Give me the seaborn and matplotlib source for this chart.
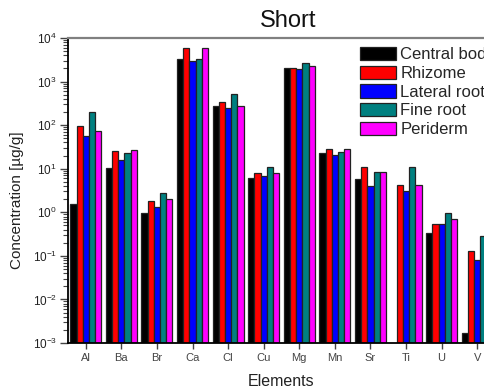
import numpy as np
import pandas as pd
import matplotlib
matplotlib.use("Agg")
import matplotlib.pyplot as plt
import seaborn as sns

elements = ["Al", "Ba", "Br", "Ca", "Cl", "Cu", "Mg", "Mn", "Sr", "Ti", "U", "V"]
parts = ["Central body", "Rhizome", "Lateral root", "Fine root", "Periderm"]
central_body = [1.55, 10.2, 0.94, 3230, 272, 6.1, 2030, 23, 5.8, np.nan, 0.34, 0.0017]
rhizome      = [95, 25, 1.8, 5900, 340, 7.9, 2100, 28, 11, 4.2, 0.55, 0.13]
lateral_root = [57, 15.8, 1.34, 2950, 250, 6.8, 1920, 20.5, 4.1, 3.1, 0.53, 0.08]
fine_root    = [200, 23, 2.7, 3250, 515, 10.9, 2680, 24, 8.5, 11, 0.96, 0.28]
periderm     = [73, 27, 2.0, 5750, 275, 7.9, 2290, 28, 8.3, 4.2, 0.69, 0.2]
colors = ["#000000", "#FF0000", "#0000FF", "#008080", "#FF00FF"]

series = [central_body, rhizome, lateral_root, fine_root, periderm]
rows = []
for p, vals in zip(parts, series):
    for e, v in zip(elements, vals):
        rows.append({"Element": e, "Part": p, "Value": v})
df = pd.DataFrame(rows)

sns.set_theme(style="white")
plt.rcParams["font.family"] = ["Liberation Sans", "DejaVu Sans"]
plt.rcParams["mathtext.fontset"] = "custom"
plt.rcParams["mathtext.rm"] = "Liberation Sans"

fig = plt.figure(figsize=(4.85, 3.88), dpi=100)
ax = fig.add_axes([68 / 485, 1 - 343 / 388, 427 / 485, 305 / 388])
ax.set_yscale("log")
sns.barplot(data=df, x="Element", y="Value", hue="Part", order=elements,
            hue_order=parts, palette=colors, width=0.87, edgecolor="#222222",
            linewidth=0.9, saturation=1, ax=ax, errorbar=None)
ax.set_ylim(1e-3, 1e4)
ax.set_xlim(-0.5, 11.5)
ax.set_xlabel("")
ax.set_ylabel("")

for s in ["left", "bottom"]:
    ax.spines[s].set_color("black")
    ax.spines[s].set_linewidth(1.3)
ax.spines["top"].set_color("#808080")
ax.spines["top"].set_linewidth(1.6)
ax.spines["right"].set_visible(False)

ax.tick_params(axis="x", which="major", direction="out", length=4, width=1,
               color="#444444", labelsize=8, labelcolor="#444444", bottom=True)
ax.tick_params(axis="y", which="major", direction="out", length=6, width=1,
               color="#444444", labelsize=8.5, labelcolor="#222222", left=True, pad=2)
ax.tick_params(axis="y", which="minor", direction="out", length=3.5, width=0.8,
               color="#444444", left=True)
ax.yaxis.set_minor_locator(matplotlib.ticker.LogLocator(base=10, subs=np.arange(2, 10)))

handles, labels = ax.get_legend_handles_labels()
if ax.get_legend() is not None:
    ax.get_legend().remove()
fig.legend(handles, labels, loc="upper left", bbox_to_anchor=(360 / 485, 1 - 47 / 388),
           bbox_transform=fig.transFigure, frameon=False, borderpad=0,
           borderaxespad=0, fontsize=12, handlelength=2.16, handleheight=0.84,
           handletextpad=0.25, labelspacing=0.2)

fig.text(288 / 485, 1 - 21 / 388, "Short", ha="center", va="center", fontsize=17, color="#111111")
fig.text(17 / 485, 1 - 200 / 388, "Concentration [µg/g]", rotation=90, ha="center",
         va="center", fontsize=11, color="#222222")
fig.text(281 / 485, 1 - 381 / 388, "Elements", ha="center", va="center",
         fontsize=11.5, color="#222222")

fig.savefig("out.png", dpi=100, facecolor="white")
